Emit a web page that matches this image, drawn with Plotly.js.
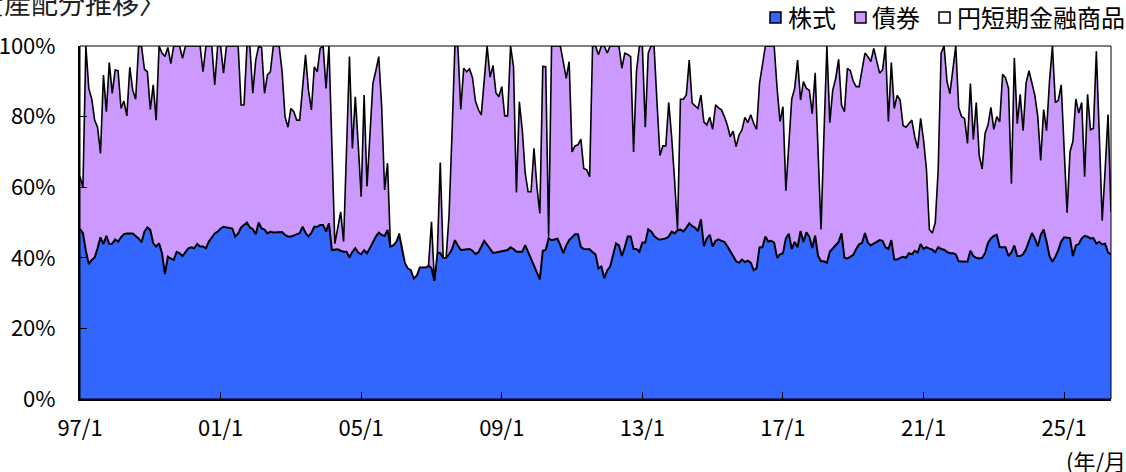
<!DOCTYPE html>
<html><head><meta charset="utf-8">
<script src="https://cdn.plot.ly/plotly-3.0.1.min.js"></script>
<style>html,body{margin:0;padding:0;background:#fff;} #chart{width:1126px;height:472px;}</style>
</head><body><div id="chart"></div>
<script>
// ---- data (monthly, 1997/1 onward, % of portfolio) ----
const startYear = 1997;
const startMonth = 1;
const seriesNames = ['株式', '債券', '円短期金融商品'];
const tickLabels = ['97/1', '01/1', '05/1', '09/1', '13/1', '17/1', '21/1', '25/1'];
const yTickVals = [0, 20, 40, 60, 80, 100];
const yTickText = ['0%', '20%', '40%', '60%', '80%', '100%'];

const stock = [
48.2,47,42,38.2,39.4,40.1,42.7,45.8,43.9,46.2,
43.9,44,45.2,44.6,45.8,46.7,46.9,46.9,46.9,46.2,
45.5,44.4,47.4,48.6,47.9,44.1,43.2,44.1,41.3,35.4,
40.3,39.8,39.4,41.7,41.3,40.5,41.5,42.7,43,42.7,
43.9,43.2,43.2,42.7,44.6,45.8,46.9,47.4,48.3,48.8,
48.6,48.5,48.3,46,46.9,48.6,49.3,50,48.6,48.1,
46.7,50,48.3,48,46.9,47.4,47.2,47.3,47.3,47.3,
46.5,46,46,46.3,46.5,47,48.8,47.1,46,47.1,
48.8,48.8,49.3,49.3,47.4,49.8,42.2,42.2,42.4,42,
41.7,41.7,40.1,41.7,42.7,41.5,41,42.2,41.3,42.8,
44.5,46,47.1,46.5,46.2,47.9,43.2,43.6,44.6,46.9,
42.2,38.5,37,36.5,34.2,35.1,37.3,37.3,37.3,37.8,
37,33.5,41.5,41.3,40,40,41,42.4,45,43.5,
42.2,42.3,42.4,42.5,42,41.1,41.5,43,44.8,43.7,
42.5,41.4,41.5,41.7,41.9,42,42.2,43,42.5,41.7,
41.7,41.7,43.6,41.7,40,38,36,33.9,42,42.2,
45.5,45,45.2,45.4,43.5,41.3,43.5,45,45.8,46.7,
46.7,43.1,42.5,42.4,42.4,41.6,41,37,37.5,34.2,
36.4,37.5,40.5,44.1,43.5,40.5,43,46,46,
42.5,42.5,41.7,44.3,44.3,48.1,47.5,46.2,45.5,45.1,
45.3,45.5,46,47.4,46.9,47.8,48,47.5,48.5,49.8,
49,48.5,47.6,50.9,43.3,45.5,46.5,43.2,44.8,45.2,
44.8,44.5,43.3,42,40.5,39,38.6,39.5,38.8,39.2,
38.6,36.5,37,43,43,46,44.6,44.8,44.3,40,
41,41.3,45.5,46.8,42.5,44.5,43,47.6,44.5,47.2,
46,42.8,46.3,40.5,39,39,38.6,41.7,42.7,43.5,
44.5,46.9,40,39.8,40.3,40.8,42.5,43.8,44.2,47,
44.3,43.5,44,44.5,45,44.8,43,42.5,45,39.5,
39.5,40,40.3,40,41.3,41,42,41.5,43.9,42.5,
43,42.6,42.3,41.6,43,42.5,42.3,41.7,41.3,41.3,
41,39,38.9,38.9,38.9,42,40.5,40,39.8,40,
41.3,44.2,45.5,46.2,46.5,43,43,43,40.5,41.5,
43.5,40.5,40.5,41,42.5,44.5,47,45.5,43.2,46.5,
48,44.6,40.5,38.9,40.3,42.2,44.6,45.8,45.8,45.6,
40.5,43.5,43.9,45.5,46.2,46,45.5,45.6,44,44.5,
43.8,44,41.5,41
];

const bond = [
14.8,13,58,49.8,45.6,38.9,34.3,23.8,47.9,35.2,
51.4,42.6,48,48.4,36.5,37.7,33.3,47.1,40.6,38.7,
54.3,55.6,46,44.1,34.1,44.9,35.8,55.9,56.7,61.6,
59.3,55.2,60.6,58.3,58.7,56,58.5,57.3,57,57.3,
56.1,56.8,49.5,57.3,55.4,54.2,42.1,52.6,51.7,43.5,
51.4,51.5,51.7,54,53.1,34.7,34,50,51.4,38.5,
49.3,50,51.2,38.6,44.9,45.3,52.8,52.7,52.7,45.4,
33.5,31,36.3,35.1,32.5,32,39.7,50.4,41.5,34.8,
45.3,43.9,50,50.7,40.6,50.2,29.8,1.8,6.1,11,
2.9,28.3,56.9,29.3,42.9,30.5,16.3,43.9,18.9,32.2,
44.9,47,49.9,36.3,13,18.9,0,0,0,0,
0,0,0,0,0,0,0,0,0,0,
13.2,0,0,25.7,0,0,11,32.6,55,56.5,
39.8,51.4,50.3,51,49,43.4,40.5,37.5,45.6,56.3,
48.7,53.1,45.3,43.9,46.6,38.2,38,57,51.7,16.8,
42.5,34.5,20.4,17,18.7,33,24.2,18.7,52.2,51.9,
0.5,55,54.8,54.6,56.5,54.2,47.3,50.6,24.2,25,
25.3,30.5,22.8,22.5,20.6,58.4,59,60.5,62.5,65.8,
61.6,62.5,59.5,55.9,56.5,53.2,55,51.6,51,
27.5,50.5,58.3,55.7,32.7,49.9,52.5,53.8,38.5,23.9,
26.4,26.2,38,26.9,15.1,0.2,36.9,37.4,37.6,46.2,
34.8,34.5,34.7,35.2,35.2,32.1,33.3,33.2,38.5,37.3,
37.1,35.5,34.3,32.3,35.4,32.5,36.2,36.7,41,39.1,
41.9,41.6,39.4,46.4,52,54,55.4,55.2,55.7,48,
37.6,41.5,13.5,25.2,42.5,43.5,53,37.1,45.4,40.8,
41.5,38,46.1,29.5,9,36,61.4,36.6,44.8,47.3,
51.7,36.4,41.4,53.9,52.7,49.2,46,44.7,48.8,51,
52.7,52.1,55.3,51.5,47.3,48.4,57,36.1,50.3,42.8,
46.5,44.7,37.2,37,36.7,38,32.3,29.5,35.6,30.9,
22,5.4,4.7,8.4,22,55.5,57.7,48.3,45.2,52.7,
59,43.5,41.1,40.6,33.5,47.4,33,44,29.2,25.2,
33.9,33.4,37.1,30.2,33.5,35.5,49,48,47.5,19.5,
53.1,37.5,45.8,35,47,48.5,42.5,40.5,36.8,21.1,
34,31.4,49.5,61.1,43.7,42.4,44.4,24.2,7,24.4,
32.5,41.5,37.1,38.5,16.8,40.3,30.7,31.1,54.5,30.5,
6.7,21,39.1,12
];

// category labels "YY/M"
const months = stock.map((_, i) => {
  const m = startMonth - 1 + i;
  const y = (startYear + Math.floor(m / 12)) % 100;
  return String(y).padStart(2, '0') + '/' + (m % 12 + 1);
});
// remainder held in short-term yen instruments
const cash = stock.map((s, i) => Math.max(0, +(100 - s - bond[i]).toFixed(1)));

const colors = ['#3366FF', '#CC99FF', '#FFFFFF'];
const FONT = '"Noto Sans CJK JP", "Noto Sans", sans-serif';

const traces = [
  {x: months, y: stock, name: seriesNames[0], type: 'scatter', mode: 'lines', stackgroup: 'one',
   fillcolor: colors[0], line: {color: '#000', width: 2}, showlegend: false, hoverinfo: 'x+y+name'},
  {x: months, y: bond, name: seriesNames[1], type: 'scatter', mode: 'lines', stackgroup: 'one',
   fillcolor: colors[1], line: {color: '#000', width: 1.6}, showlegend: false, hoverinfo: 'x+y+name'},
  {x: months, y: cash, name: seriesNames[2], type: 'scatter', mode: 'lines', stackgroup: 'one',
   fillcolor: colors[2], line: {color: 'rgba(0,0,0,0)', width: 0}, showlegend: false, hoverinfo: 'x+y+name'}
];

// pixel -> paper helpers (layout geometry)
const W = 1126, H = 472, ML = 80, MR = 15, MT = 46, MB = 73;
const PW = W - ML - MR, PH = H - MT - MB;
const px = p => (p - ML) / PW;
const py = p => (H - MB - p) / PH;

const legendBoxes = [[770, 781], [855, 866], [939, 950]];
const legendText = [786, 870, 955];
const shapes = [
  {type: 'rect', xref: 'paper', yref: 'paper', x0: 0, x1: 1, y0: 0, y1: 1,
   line: {color: '#000', width: 1}, layer: 'above'}
];
const annotations = [];
seriesNames.forEach((n, k) => {
  shapes.push({type: 'rect', xref: 'paper', yref: 'paper',
    x0: px(legendBoxes[k][0]), x1: px(legendBoxes[k][1]), y0: py(23), y1: py(12),
    fillcolor: colors[k], line: {color: '#000', width: 1.5}});
  annotations.push({xref: 'paper', yref: 'paper', x: px(legendText[k]), y: py(17),
    xanchor: 'left', yanchor: 'middle', showarrow: false, text: n,
    font: {family: FONT, size: 24, color: '#000'}});
});
annotations.push({xref: 'paper', yref: 'paper', x: px(-52), y: py(3), xanchor: 'left', yanchor: 'middle',
  showarrow: false, text: '〈資産配分推移〉', font: {family: FONT, size: 27, color: '#222'}});
annotations.push({xref: 'paper', yref: 'paper', x: px(1064), y: py(460), xanchor: 'left', yanchor: 'middle',
  showarrow: false, text: '(年/月)', font: {family: FONT, size: 22, color: '#000'}});

const layout = {
  width: W, height: H,
  margin: {l: ML, r: MR, t: MT, b: MB, pad: 0},
  paper_bgcolor: '#fff', plot_bgcolor: '#fff',
  font: {family: FONT, color: '#000'},
  showlegend: false,
  xaxis: {
    type: 'category', range: [0, months.length - 1],
    tickmode: 'array', tickvals: tickLabels, ticktext: tickLabels,
    ticks: 'inside', ticklen: 7, tickwidth: 1, tickcolor: '#000',
    showline: true, linecolor: '#000', linewidth: 2,
    showgrid: false, zeroline: false, ticklabelstandoff: 9,
    tickfont: {family: FONT, size: 22, color: '#000'}, fixedrange: true
  },
  yaxis: {
    range: [0, 100], tickmode: 'array', tickvals: yTickVals, ticktext: yTickText,
    ticks: 'inside', ticklen: 7, tickwidth: 1, tickcolor: '#000',
    showline: true, linecolor: '#000', linewidth: 2,
    showgrid: false, zeroline: false, ticklabelstandoff: 18,
    tickfont: {family: FONT, size: 22, color: '#000'}, fixedrange: true
  },
  shapes: shapes,
  annotations: annotations
};

Plotly.newPlot('chart', traces, layout, {displayModeBar: false, staticPlot: true});
</script>
</body></html>
